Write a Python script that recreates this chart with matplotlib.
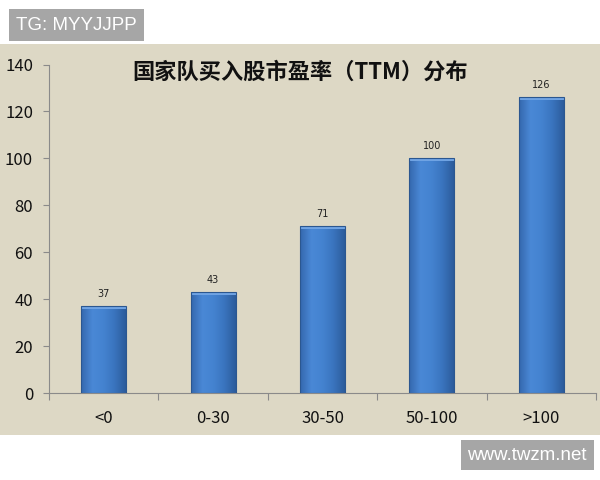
import matplotlib
matplotlib.use("Agg")
import matplotlib.pyplot as plt
import numpy as np
from matplotlib.colors import LinearSegmentedColormap
from matplotlib.patches import Rectangle

plt.rcParams['font.family'] = ['Noto Sans CJK SC', 'DejaVu Sans']

categories = ['<0', '0-30', '30-50', '50-100', '>100']
values = [37, 43, 71, 100, 126]
title = '国家队买入股市盈率（TTM）分布'
yticks = [0, 20, 40, 60, 80, 100, 120, 140]

fig = plt.figure(figsize=(6, 4.8), dpi=100)
fig.patch.set_facecolor('white')

# beige panel
fig.patches.append(Rectangle((0, (480 - 435) / 480), 1, (435 - 44) / 480,
                             transform=fig.transFigure, facecolor='#DDD8C5',
                             edgecolor='none', zorder=-10))

ax = fig.add_axes([49 / 600, (480 - 393) / 480, 547 / 600, (393 - 64.5) / 480])
ax.set_facecolor('none')

x = np.arange(len(categories))
bars = ax.bar(x, values, width=0.41, color='none', edgecolor='#2B5790',
              linewidth=0.8, zorder=3)

cmap = LinearSegmentedColormap.from_list(
    'barg', ['#3468AE', '#4A88D6', '#4483D0', '#3A74BE', '#2C5C9C'])
grad = np.linspace(0, 1, 64).reshape(1, -1)
for b in bars:
    bx, bw, bh = b.get_x(), b.get_width(), b.get_height()
    ax.imshow(grad, cmap=cmap, aspect='auto', extent=(bx, bx + bw, 0, bh),
              zorder=2, interpolation='bicubic')
    # top bevel highlight
    ax.add_patch(Rectangle((bx, bh - 1.2), bw, 1.2, facecolor='#6FA3E3',
                           edgecolor='none', zorder=2.5))
    ax.text(bx + bw / 2, bh + 3, f'{int(bh)}', ha='center', va='bottom',
            fontsize=7, color='#222222', family=['DejaVu Sans'], zorder=4)

ax.set_xlim(-0.5, len(categories) - 0.5)
ax.set_ylim(0, 140)
ax.set_yticks(yticks)
ax.set_xticks(np.arange(len(categories) + 1) - 0.5, minor=False)
ax.set_xticklabels([])
ax.set_xticks(x, minor=True)
ax.set_xticklabels(categories, minor=True)
ax.tick_params(axis='x', which='major', length=5, color='#8A8A8A', direction='out')
ax.tick_params(axis='x', which='minor', length=0, labelsize=12, pad=12,
               labelcolor='#111111')
ax.tick_params(axis='y', length=4.5, color='#8A8A8A', direction='out',
               labelsize=12, pad=7, labelcolor='#111111')

for s in ['top', 'right']:
    ax.spines[s].set_visible(False)
ax.spines['left'].set_color('#8A8A8A')
ax.spines['bottom'].set_color('#8A8A8A')
ax.spines['left'].set_linewidth(0.8)
ax.spines['bottom'].set_linewidth(0.8)

fig.text(300 / 600, (480 - 72) / 480, title, ha='center', va='center',
         fontsize=16, fontweight='bold', color='#111111')

# watermarks
fig.text(16 / 600, (480 - 25) / 480, 'TG: MYYJJPP', ha='left', va='center',
         fontsize=13.5, color='white', family=['Liberation Sans'],
         bbox=dict(boxstyle='square,pad=0.4', facecolor='#A6A6A6',
                   edgecolor='none'))
fig.text(587 / 600, (480 - 455) / 480, 'www.twzm.net', ha='right', va='center',
         fontsize=13.5, color='white', family=['Liberation Sans'],
         bbox=dict(boxstyle='square,pad=0.35', facecolor='#A6A6A6',
                   edgecolor='none'))

fig.savefig('out.png', dpi=100, facecolor='white')
